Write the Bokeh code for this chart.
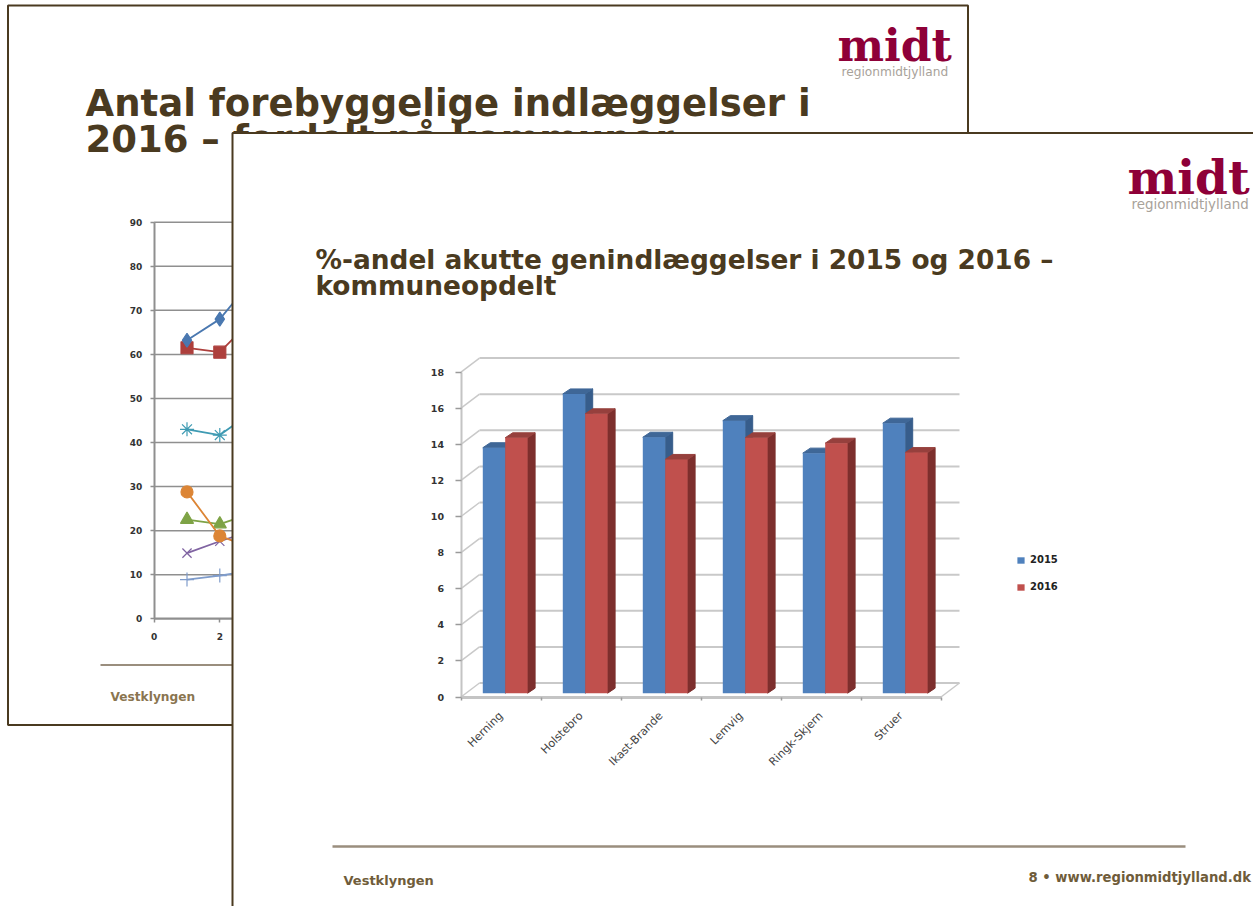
from math import pi
from bokeh.embed import file_html
from bokeh.resources import INLINE
from bokeh.core.properties import value
from bokeh.models import FixedTicker, LinearAxis, Range1d, Legend, LegendItem
from bokeh.plotting import figure

# ---------- data: front chart ----------
categories = ["Herning", "Holstebro", "Ikast-Brande", "Lemvig", "Ringk-Skjern", "Struer"]
pct_2015 = [13.6, 16.58, 14.18, 15.1, 13.3, 14.96]
pct_2016 = [14.15, 15.48, 12.95, 14.15, 13.85, 13.33]
front_y_ticks = [0, 2, 4, 6, 8, 10, 12, 14, 16, 18]

# ---------- data: back chart ----------
back_x = [1, 2, 3]
s_diamond = [63.2, 68.0, 77.0]
s_square = [61.5, 60.5, 68.0]
s_asterisk = [43.0, 41.7, 47.0]
s_circle = [28.8, 18.8, 16.0]
s_triangle = [22.5, 21.5, 24.0]
s_x = [14.9, 17.6, 20.0]
s_plus = [8.9, 9.8, 11.0]
back_y_ticks = [0, 10, 20, 30, 40, 50, 60, 70, 80, 90]
back_x_ticks = [0, 2, 4, 6, 8]

# ---------- layout of the photographed page ----------
W, H = 1253, 906
FX0, FPX = 460.5, 80.0      # front chart: x origin, px per category
FY0, FPY = 696.5, 18.05     # front chart: y origin, px per unit
BX0, BPX = 153.7, 32.8      # back chart
BY0, BPY = 618.3, 4.407
BROWN = "#4a3a20"
TAN = "#9a8e7e"
WINE = "#8e0038"
TICK = "#333333"
BASELINE_FIX = 0.37

p = figure(width=W, height=H, output_backend="svg", toolbar_location=None,
           x_axis_type=None, y_axis_type=None, min_border=0, outline_line_color=None,
           x_range=Range1d(-FX0 / FPX, (W - FX0) / FPX),
           y_range=Range1d((FY0 - H) / FPY, FY0 / FPY))
p.grid.visible = False
p.extra_x_ranges = {"page": Range1d(0, W), "bx": Range1d(-BX0 / BPX, (W - BX0) / BPX)}
p.extra_y_ranges = {"page": Range1d(H, 0), "by": Range1d((BY0 - H) / BPY, BY0 / BPY)}
PAGE = dict(x_range_name="page", y_range_name="page")
BACK = dict(x_range_name="bx", y_range_name="by")


def words(x, y, s, size, color, level, font="DejaVu Sans", style="bold"):
    p.text([x], [y - BASELINE_FIX * size], text=[s], text_font=value(font), text_font_style=style,
           text_font_size=f"{size}px", text_color=color, text_baseline="alphabetic",
           level=level, **PAGE)


# ---------- back slide ----------
p.quad(left=[7.5], right=[967.5], top=[5], bottom=[724.5], fill_color="white",
       line_color=BROWN, line_width=2, level="image", **PAGE)
words(85, 117, "Antal forebyggelige indlæggelser i", 37, BROWN, "guide")
words(85, 153, "2016 – fordelt på kommuner", 37, BROWN, "guide")
words(837, 61, "midt", 44, WINE, "guide", font="DejaVu Serif")
words(841, 76, "regionmidtjylland", 12.2, "#a8a29a", "guide", style="normal")
p.segment([100], [664.5], [960], [664.5], line_color=TAN, line_width=2, level="guide", **PAGE)
words(110, 701, "Vestklyngen", 12.2, "#8a7550", "guide")

p.segment(x0=[0] * len(back_y_ticks), y0=back_y_ticks, x1=[24] * len(back_y_ticks), y1=back_y_ticks,
          line_color="#8f8f8f", line_width=1.5, level="underlay", **BACK)
for ys, col, mk, sz, fill in [
    (s_plus, "#7f9ccb", "cross", 14, None),
    (s_x, "#8064a2", "x", 13, None),
    (s_triangle, "#7ea346", "triangle", 13, "#7ea346"),
    (s_circle, "#dc8535", "circle", 12, "#dc8535"),
    (s_asterisk, "#3f9bb3", "asterisk", 14, None),
    (s_square, "#ad3f3c", "square", 12, "#ad3f3c"),
    (s_diamond, "#4a78b0", "diamond", 14, "#4a78b0"),
]:
    p.line(back_x, ys, line_color=col, line_width=1.8, level="glyph", **BACK)
    p.scatter(back_x, ys, marker=mk, size=sz, line_color=col, fill_color=fill, line_width=1.2,
              level="glyph", **BACK)

ax_style = dict(axis_line_color="#8f8f8f", major_tick_line_color="#8f8f8f", minor_tick_line_color=None,
                major_label_text_font="DejaVu Sans", major_label_text_font_style="bold",
                major_label_text_color=TICK, major_label_text_font_size="9px")
back_yaxis = LinearAxis(ticker=FixedTicker(ticks=back_y_ticks), fixed_location=0, bounds=(0, 90),
                        major_tick_out=4, major_tick_in=0, axis_line_width=2, major_tick_line_width=1.5,
                        major_label_standoff=8, level="guide", **BACK, **ax_style)
back_xaxis = LinearAxis(ticker=FixedTicker(ticks=back_x_ticks), fixed_location=0, bounds=(0, 8),
                        major_tick_out=4, major_tick_in=0, axis_line_width=2, major_tick_line_width=1.5,
                        major_label_standoff=10, level="guide", **BACK, **ax_style)
p.add_layout(back_yaxis, "left")
p.add_layout(back_xaxis, "below")

# ---------- front slide ----------
p.quad(left=[232], right=[1280], top=[132.5], bottom=[940], fill_color="white",
       line_color=BROWN, line_width=2, level="annotation", **PAGE)
words(315, 269, "%-andel akutte genindlæggelser i 2015 og 2016 –", 26.4, BROWN, "overlay")
words(315, 295, "kommuneopdelt", 26.4, BROWN, "overlay")
words(1127, 194, "midt", 47, WINE, "overlay", font="DejaVu Serif")
words(1131, 209, "regionmidtjylland", 13.4, "#a8a29a", "overlay", style="normal")
p.segment([332], [846], [1185], [846], line_color=TAN, line_width=2.5, level="overlay", **PAGE)
words(343, 885, "Vestklyngen", 13, "#6f5c3a", "overlay")
words(1028, 882, "8 • www.regionmidtjylland.dk", 13.2, "#6f5c3a", "overlay")

# oblique wall and floor of the 3-D box
WALL_DX, WALL_DY = 18.5 / FPX, 14.0 / FPY
n = len(categories)
GRID = "#c9c9c9"
p.segment(x0=[WALL_DX] * len(front_y_ticks), y0=[v + WALL_DY for v in front_y_ticks],
          x1=[n + WALL_DX] * len(front_y_ticks), y1=[v + WALL_DY for v in front_y_ticks],
          line_color=GRID, line_width=2, level="overlay")
p.segment(x0=[0] * len(front_y_ticks), y0=front_y_ticks,
          x1=[WALL_DX] * len(front_y_ticks), y1=[v + WALL_DY for v in front_y_ticks],
          line_color=GRID, line_width=1.5, level="overlay")
p.segment(x0=[n], y0=[0], x1=[n + WALL_DX], y1=[WALL_DY], line_color=GRID, line_width=1.5, level="overlay")

# bars
BASE = 3.8 / FPY
BAR_L, BAR_W = 0.2725, 0.28
DX, DY = 7.5 / FPX, 5.0 / FPY


def bars(vals, offset, front, side, top):
    lefts = [i + BAR_L + offset for i in range(n)]
    rights = [x + BAR_W for x in lefts]
    tops = [v + BASE for v in vals]
    p.patches(xs=[[r, r + DX, r + DX, r] for r in rights],
              ys=[[BASE, BASE + DY, t + DY, t] for t in tops],
              fill_color=side, line_color=side, level="overlay")
    p.patches(xs=[[l, l + DX, r + DX, r] for l, r in zip(lefts, rights)],
              ys=[[t, t + DY, t + DY, t] for t in tops],
              fill_color=top, line_color=top, level="overlay")
    return p.quad(left=lefts, right=rights, bottom=[BASE] * n, top=tops,
                  fill_color=front, line_color=None, level="overlay")


r15 = bars(pct_2015, 0, "#4f81bd", "#375d8b", "#3f6797")
r16 = bars(pct_2016, BAR_W, "#c0504d", "#7d2f2d", "#96403d")

front_y = LinearAxis(ticker=FixedTicker(ticks=front_y_ticks), fixed_location=0, bounds=(0, 18),
                     axis_line_color="#c4c4c4", major_tick_line_color="#9a9a9a", minor_tick_line_color=None,
                     major_tick_out=6, major_tick_in=0, axis_line_width=2, major_tick_line_width=1.5,
                     major_label_standoff=11, major_label_text_font_size="9.5px",
                     major_label_text_font="DejaVu Sans", major_label_text_font_style="bold",
                     major_label_text_color=TICK, level="overlay")
front_x = LinearAxis(ticker=FixedTicker(ticks=[i + 0.5 for i in range(n)], minor_ticks=list(range(n + 1))),
                     fixed_location=0, bounds=(0, n),
                     major_label_overrides={i + 0.5: c for i, c in enumerate(categories)},
                     axis_line_color="#c4c4c4", axis_line_width=3,
                     major_tick_line_color=None, major_tick_out=0, major_tick_in=0,
                     minor_tick_line_color="#9a9a9a", minor_tick_out=3, minor_tick_in=0, minor_tick_line_width=1.5,
                     major_label_orientation=pi / 4, major_label_standoff=14, major_label_text_font_size="11.2px",
                     major_label_text_font="DejaVu Sans", major_label_text_color="#444444", level="overlay")
p.add_layout(front_y, "left")
p.add_layout(front_x, "below")

legend = Legend(items=[LegendItem(label="2015", renderers=[r15]), LegendItem(label="2016", renderers=[r16])],
                location=(1016, H - 592), orientation="vertical", glyph_width=9, glyph_height=8,
                spacing=16, padding=0, margin=0, label_standoff=5, background_fill_alpha=0,
                border_line_color=None, label_text_font="DejaVu Sans", label_text_font_style="bold",
                label_text_font_size="10px", label_text_color="#222222", label_height=9, level="overlay")
p.add_layout(legend, "center")

open("out.html", "w").write(file_html(p, INLINE))
